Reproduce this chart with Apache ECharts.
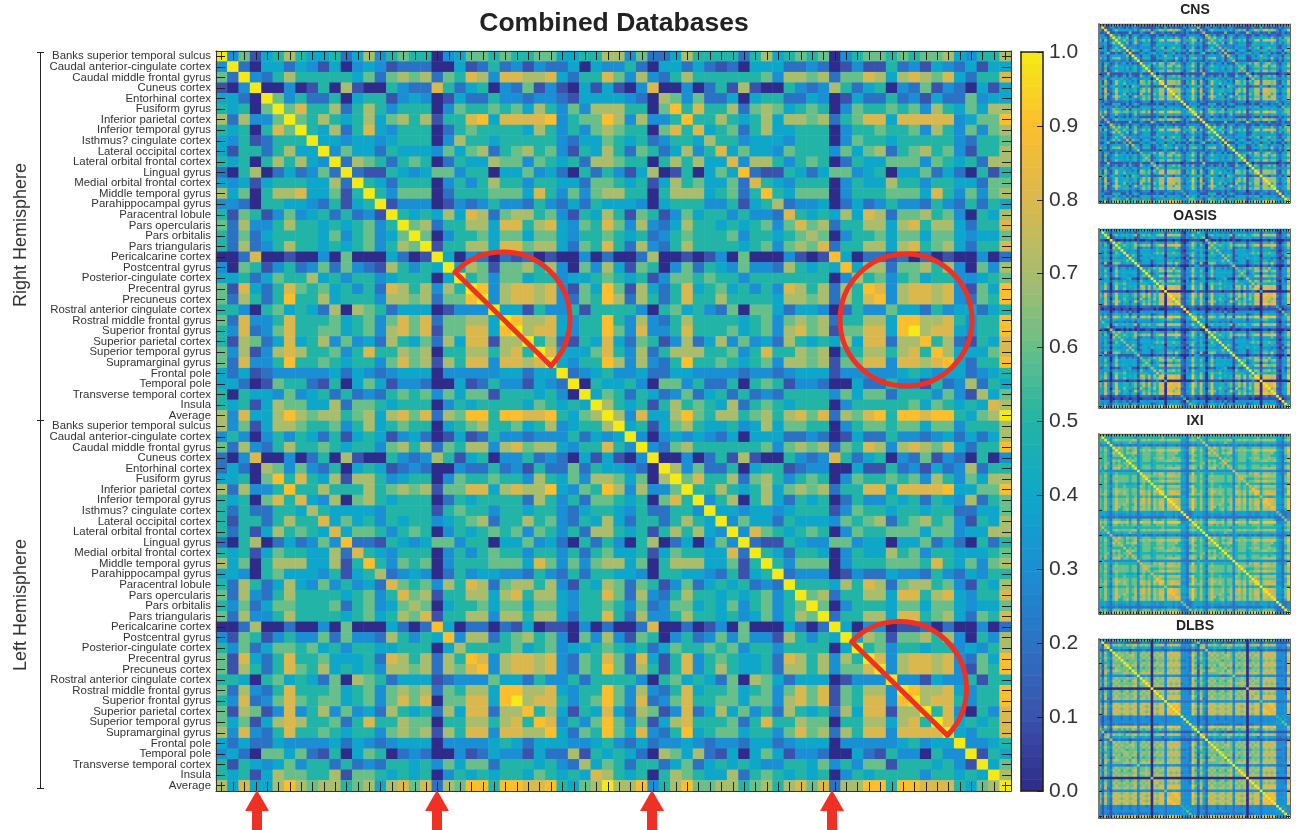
<!DOCTYPE html>
<html><head><meta charset="utf-8">
<style>html,body{margin:0;padding:0;background:#fff}#c{width:1296px;height:830px}</style>
<script src="https://cdn.jsdelivr.net/npm/echarts@6/dist/echarts.min.js"></script>
</head><body><div id="c"></div>
<script>
const chartTitle = "Combined Databases";
const regions = ["Banks superior temporal sulcus","Caudal anterior-cingulate cortex","Caudal middle frontal gyrus","Cuneus cortex","Entorhinal cortex","Fusiform gyrus","Inferior parietal cortex","Inferior temporal gyrus","Isthmus? cingulate cortex","Lateral occipital cortex","Lateral orbital frontal cortex","Lingual gyrus","Medial orbital frontal cortex","Middle temporal gyrus","Parahippocampal gyrus","Paracentral lobule","Pars opercularis","Pars orbitalis","Pars triangularis","Pericalcarine cortex","Postcentral gyrus","Posterior-cingulate cortex","Precentral gyrus","Precuneus cortex","Rostral anterior cingulate cortex","Rostral middle frontal gyrus","Superior frontal gyrus","Superior parietal cortex","Superior temporal gyrus","Supramarginal gyrus","Frontal pole","Temporal pole","Transverse temporal cortex","Insula","Average"];
const parula = ["#2f2b8a","#3a52ac","#2c72c4","#1b8fd4","#0fa7c9","#22b4a6","#68bf89","#a9bd6d","#dbb84e","#fdbe2e","#f5ea15"];

// Digits are tenths of the correlation, A = 1.0. Upper triangles, each row starts on the diagonal.
const rightRight = ["A3614|57544|52473|56550|34665|65566|44557","A204|42431|40343|12220|04125|23132|24043","A32|57555|55462|67672|65873|88778|42558","A0|03015|07100|53228|52450|32613|10414","A|63522|50455|13430|14225|33233|21444","A6855|72575|35550|36556|56475|36377","A657|54574|67571|55894|88889|35669","A54|72584|35550|25655|55475|35367","A4|43443|45550|37554|55555|32446","A|36442|54443|64672|56756|31547","A2765|25650|25447|66365|45277","A211|54346|63550|44634|20525","A54|25550|35357|55355|44266","A5|36660|25556|66485|36367","A|13330|13235|33253|24254","A5454|74872|67756|31547","A672|55774|88578|43658","A60|35564|66466|43556","A1|55774|88677|42658","A|40320|21201|00302","A4761|66757|30637","A563|66455|34456","A93|78878|31649","A3|78878|32659","A|44153|35155","A9778|43559","A788|43559","A57|21548","A8|44468","A|43559","A2345","A054","A46","A7","A"];
const leftLeft = ["A4514|67544|53474|66550|35665|66466|35557","A303|43432|40444|22320|14225|33234|24247","A32|67555|55563|67672|65873|78768|42559","A0|03025|17100|53238|52450|32613|20503","A|73622|50455|12330|04115|23142|37255","A6855|72675|35650|36556|56375|36477","A557|54574|67672|55884|88889|44669","A35|70574|25450|25335|45254|37256","A4|43443|45551|36554|55455|22446","A|36442|54443|65672|56756|31547","A3865|45650|36556|66466|34477","A211|54336|63440|44624|20525","A54|25540|35447|56355|44456","A5|36660|35556|66585|46367","A|23330|13224|33253|24355","A5554|75872|67756|31547","A672|55774|88578|43558","A60|35554|66466|43446","A2|55774|88567|42658","A|40330|11202|00302","A4761|66757|30537","A563|55455|34357","A83|78878|32649","A3|78878|31659","A|33143|35155","A9778|43559","A788|53559","A58|30538","A8|45458","A|43558","A3345","A154","A46","A7","A"];
// Right hemisphere rows against left hemisphere columns, full 35x35 block.
const rightLeft = ["73622|47555|52574|56560|35665|65667|43557","35204|42421|20444|22320|13115|23143|24144","63732|57555|55563|77672|66874|78768|42558","10380|03025|17100|53237|52450|32613|20414","43207|63622|40455|22430|14225|23142|26344","75506|95855|72676|45650|36556|56375|46477","73733|59557|54574|77672|56884|88888|34669","65506|85845|62574|45550|35565|56375|36367","54523|55475|53444|35550|36554|55555|32556","52652|47358|46443|65553|64672|56756|31557","65505|75744|83775|35650|25446|66365|45277","31470|15046|49211|54246|63450|44624|20515","54514|75644|62854|35550|35447|55355|44266","75505|77745|62595|46660|35556|66485|36367","44304|55533|51457|23340|24235|33253|25254","51651|36455|35332|85454|74872|66756|30547","63732|47554|54563|68672|55774|78577|42558","54523|56555|63554|56760|35564|66466|43446","52732|57555|54563|67682|55774|78567|42558","00270|01013|06000|31019|40221|20201|00302","41650|36254|36332|75454|94772|66757|30637","54513|66565|53555|55550|37563|56455|33456","61742|58456|45353|87572|75983|78878|31649","72752|58557|55554|77672|75893|78878|32659","55305|64532|60664|24430|25336|44253|44245","53732|57555|54563|67672|55774|99778|53559","63833|58555|64563|78671|66884|9A788|43559","42651|37247|36342|75454|74882|77957|21548","53725|77755|63585|57670|55775|78597|44468","73732|59556|54563|77671|66883|88789|42559","33422|44333|32332|34441|33333|45434|42345","45306|63522|50565|13320|04225|33152|37254","52542|36245|25232|55553|64662|55536|31746","54515|75654|72565|45550|35555|56465|45487","73844|79657|75675|78682|76895|99899|5467A"];
// Small panels: one hemisphere's upper triangle and the between-hemisphere diagonal.
const cnsWithin = ["A2513|46332|41362|44341|23554|55455|33446","A113|31321|31332|11111|13115|12121|13133","A21|46444|44352|56561|45765|78676|31448","A1|12111|16111|42117|41231|21511|21312","A|52412|41343|12321|13114|22122|11333","A5744|61462|24441|25445|45363|25266","A546|43463|56461|44783|78787|24558","A43|61473|24441|14544|44364|25256","A3|32332|34441|25443|44444|21335","A|25332|43332|53561|45645|21436","A1654|14541|14335|55255|34166","A111|43234|52441|33513|11414","A43|14441|24246|44244|33155","A4|25551|14445|55373|25256","A|12221|12124|22142|13143","A4344|63762|56745|21436","A561|44663|77467|32458","A51|24454|55355|32445","A1|44663|77566|31458","A|30211|11111|01211","A3651|55646|21526","A452|55445|33345","A82|77767|21538","A2|77767|21548","A|33143|24144","A8777|32448","A777|42459","A57|21437","A7|33357","A|32448","A2234","A143","A35","A6","A"];
const cnsBetween = "77678|87767|87867|66767|87785|88888|55667";
const oasisWithin = ["A3451|55444|33534|44451|44553|66545|11447","A431|32332|32313|33332|33441|34343|10324","A50|56455|54571|56564|46771|88778|21348","A0|13332|43411|43344|43441|43444|11324","A|20010|10101|00110|10000|11011|00011","A5753|54562|34441|45441|55464|10247","A556|54574|67672|56881|88889|21458","A44|53561|24341|35441|44464|11246","A4|33431|44443|35441|44433|10234","A|34441|44443|56561|55655|11346","A3651|24444|34440|55454|21157","A441|44435|44541|33423|10414","A41|24441|34441|55345|21147","A3|34441|34551|66585|21247","A|11110|12120|22131|00021","A4354|65761|65744|20437","A562|45772|78567|21348","A51|35440|55355|21336","A3|44771|87667|21348","A|43331|33434|11314","A4761|66756|10427","A463|55455|21336","A91|88878|10449","A0|88878|10449","A|00000|00001","A9889|21349","A889|31359","A68|11348","A8|21449","A|21349","A1123","A012","A24","A5","A"];
const oasisBetween = "66567|78676|77767|66767|78885|88889|55667";
const ixiWithin = ["A5642|66565|65663|56665|56665|66665|44367","A553|55555|55535|55555|55564|55555|44256","A53|67666|66773|67676|66776|77777|44367","A3|45545|56553|55554|55553|55555|33245","A|32323|32323|32322|32322|33323|22223","A6865|76673|56665|56665|66666|43268","A665|65673|67676|67886|88888|54369","A65|76783|56665|56765|66675|43268","A5|55653|56665|56665|66655|43257","A|56563|56665|66775|66766|43257","A6763|56664|56666|77667|54268","A553|55554|55555|55554|33235","A63|56664|56665|66566|44267","A3|56665|56666|77777|43268","A|33332|33333|33333|22223","A6665|76875|77767|43259","A776|66776|88777|44268","A64|55665|66666|44267","A5|66786|88777|44268","A|55553|55545|33235","A6875|77777|33269","A764|66666|44258","A95|78877|33259","A5|78888|33269","A|55445|44255","A9887|44369","A887|44369","A77|33269","A8|44369","A|33259","A3223","A223","A23","A4","A"];
const ixiBetween = "78787|88878|88878|88878|89987|89998|66678";
const dlbsWithin = ["A3531|66565|65763|65660|55653|67676|33336","A121|22322|12111|23220|23221|23222|11112","A73|76765|76785|76760|67783|78787|33338","A2|44545|54653|44540|44423|45444|22325","A|22322|21222|23220|22221|23222|11112","A6766|75763|67670|67673|78787|33328","A676|67863|76760|76873|87878|33339","A66|76763|67670|67673|78787|33328","A6|56663|65660|56663|67676|22327","A|76673|67670|67673|78787|33328","A6772|76670|76773|87878|33328","A562|65660|56663|67676|22327","A73|67670|67673|78787|33328","A4|78780|77874|87878|33339","A|33430|34332|34333|22223","A6760|67673|78787|33328","A760|76773|87878|33328","A70|67663|76767|23327","A0|77773|87878|33338","A|00000|00000|00000","A7773|78787|33328","A673|67676|33327","A83|88888|33339","A3|88888|33338","A|33433|22223","A8998|33339","A898|33339","A89|33338","A8|33338","A|33339","A3433","A343","A33","A3","A"];
const dlbsBetween = "77677|88777|77877|66767|88886|88888|55667";

function digit(c){ return c === "A" ? 1 : (c === undefined ? 0.5 : +c / 10); }
function clean(s){ return s.replace(/\|/g, ""); }
function fromHalf(rows, a, b){ const lo = Math.min(a,b), hi = Math.max(a,b); return digit(clean(rows[lo])[hi-lo]); }
function mainCells(){
  const out = [];
  for (let i=0;i<70;i++) for (let j=0;j<70;j++){
    const ri=i%35, cj=j%35; let v;
    if (i<35 && j<35) v = fromHalf(rightRight, ri, cj);
    else if (i>=35 && j>=35) v = fromHalf(leftLeft, ri, cj);
    else if (i<35) v = digit(clean(rightLeft[ri])[cj]);
    else v = digit(clean(rightLeft[cj])[ri]);
    out.push([j,i,v]);
  }
  return out;
}
function smallCells(within, between){
  const out = [], b = clean(between);
  for (let i=0;i<70;i++) for (let j=0;j<70;j++){
    const ri=i%35, cj=j%35;
    const cross = (i<35) !== (j<35);
    const v = (cross && ri===cj) ? digit(b[ri]) : fromHalf(within, ri, cj);
    out.push([j,i,v]);
  }
  return out;
}
const labels70 = regions.concat(regions);
const FONT = '"Liberation Sans", Arial, sans-serif';
const RED = "#ee3124";
const grids=[], xAxes=[], yAxes=[], series=[];
function hm(xi,yi,data){ series.push({type:"heatmap",xAxisIndex:xi,yAxisIndex:yi,data,progressive:0,animation:false,emphasis:{disabled:true},silent:true,itemStyle:{borderWidth:0}}); }
function addMatrix(rect, cells, main){
  const g = grids.length; grids.push(Object.assign({containLabel:false},rect));
  const idx = labels70.map((_,i)=>String(i));
  const line = main ? {show:true,lineStyle:{color:"#333",width:1}} : {show:true,lineStyle:{color:"#666",width:1}};
  const tickLen = main ? 9 : 2.5;
  const xTick = {show:true,inside:true,alignWithLabel:true,interval:0,length:tickLen,lineStyle:{color:"#222",width:1}};
  const yTick = main ? xTick : {show:true,inside:true,alignWithLabel:true,interval:(i)=>i%10===9,length:3,lineStyle:{color:"#222",width:1}};
  const xi = xAxes.length, yi = yAxes.length;
  xAxes.push({type:"category",gridIndex:g,data:idx,position:"bottom",z:10,axisLine:line,axisTick:xTick,axisLabel:{show:false},splitLine:{show:false}});
  xAxes.push({type:"category",gridIndex:g,data:idx,position:"top",z:10,axisLine:line,axisTick:xTick,axisLabel:{show:false},splitLine:{show:false}});
  yAxes.push({type:"category",gridIndex:g,data:main?labels70:idx,inverse:true,position:"left",z:10,axisLine:main?line:{show:true,lineStyle:{color:"#777",width:2}},axisTick:yTick,
    axisLabel:main?{show:true,interval:0,fontFamily:FONT,fontSize:11.4,color:"#333",margin:5}:{show:false},splitLine:{show:false}});
  yAxes.push({type:"category",gridIndex:g,data:idx,inverse:true,position:"right",z:10,axisLine:line,axisTick:yTick,axisLabel:{show:false},splitLine:{show:false}});
  hm(xi,yi,cells);
}
addMatrix({left:216,top:51,width:795,height:740}, mainCells(), true);
addMatrix({left:1099,top:24,width:191,height:179}, smallCells(cnsWithin,cnsBetween), false);
addMatrix({left:1099,top:229,width:191,height:179}, smallCells(oasisWithin,oasisBetween), false);
addMatrix({left:1099,top:434,width:191,height:180}, smallCells(ixiWithin,ixiBetween), false);
addMatrix({left:1099,top:639,width:191,height:179}, smallCells(dlbsWithin,dlbsBetween), false);

// colour bar
const levels = Array.from({length:64},(_,i)=>(i+0.5)/64);
(function(){
  const g = grids.length; grids.push({left:1021,top:52,width:22,height:739});
  const xi=xAxes.length, yi=yAxes.length;
  const line={show:true,lineStyle:{color:"#222",width:1.5}};
  xAxes.push({type:"category",gridIndex:g,data:["bar"],z:10,axisLine:line,axisTick:{show:false},axisLabel:{show:false}});
  xAxes.push({type:"category",gridIndex:g,data:["bar"],position:"top",z:10,axisLine:line,axisTick:{show:false},axisLabel:{show:false}});
  yAxes.push({type:"category",gridIndex:g,data:levels.map(String),position:"left",z:10,axisLine:line,axisTick:{show:false},axisLabel:{show:false}});
  yAxes.push({type:"value",gridIndex:g,min:0,max:1,interval:0.1,position:"right",z:10,axisLine:line,
    axisTick:{show:true,inside:true,length:6,lineStyle:{color:"#222",width:1}},splitLine:{show:false},
    axisLabel:{show:true,margin:6,fontFamily:FONT,fontSize:21,color:"#333",formatter:v=>v.toFixed(1)}});
  hm(xi,yi,levels.map((v,i)=>[0,i,v]));
})();

const stroke={stroke:RED,lineWidth:5,fill:"none",lineCap:"round"};
function half(cx,cy,r,x1,y1,x2,y2){
  return [
   {type:"arc",z:20,shape:{cx,cy,r,startAngle:Math.atan2(y1-cy,x1-cx),endAngle:Math.atan2(y2-cy,x2-cx),clockwise:true},style:stroke},
   {type:"line",z:20,shape:{x1,y1,x2,y2},style:stroke}
  ];
}
const graphic=[
 {type:"text",style:{x:614,y:10,text:chartTitle,fontFamily:FONT,fontSize:26.5,fontWeight:"bold",fill:"#222",textAlign:"center"}},
 {type:"text",style:{x:1195,y:3,text:"CNS",fontFamily:FONT,fontSize:14,fontWeight:"bold",fill:"#222",textAlign:"center"}},
 {type:"text",style:{x:1195,y:209,text:"OASIS",fontFamily:FONT,fontSize:14,fontWeight:"bold",fill:"#222",textAlign:"center"}},
 {type:"text",style:{x:1195,y:414,text:"IXI",fontFamily:FONT,fontSize:14,fontWeight:"bold",fill:"#222",textAlign:"center"}},
 {type:"text",style:{x:1195,y:619,text:"DLBS",fontFamily:FONT,fontSize:14,fontWeight:"bold",fill:"#222",textAlign:"center"}},
 {type:"text",rotation:Math.PI/2,x:21,y:235,style:{text:"Right Hemisphere",fontFamily:FONT,fontSize:18,fill:"#333",textAlign:"center",textVerticalAlign:"middle"}},
 {type:"text",rotation:Math.PI/2,x:21,y:605,style:{text:"Left Hemisphere",fontFamily:FONT,fontSize:18,fill:"#333",textAlign:"center",textVerticalAlign:"middle"}},
 {type:"line",shape:{x1:40.5,y1:52,x2:40.5,y2:788},style:{stroke:"#222",lineWidth:1}},
 {type:"line",shape:{x1:37,y1:52.5,x2:44,y2:52.5},style:{stroke:"#222",lineWidth:1}},
 {type:"line",shape:{x1:37,y1:420.5,x2:44,y2:420.5},style:{stroke:"#222",lineWidth:1}},
 {type:"line",shape:{x1:37,y1:788.5,x2:44,y2:788.5},style:{stroke:"#222",lineWidth:1}},
 ...half(503,319,67,455,272,551,366),
 ...half(899.5,688.5,67,852,642,947,735),
 {type:"circle",z:20,shape:{cx:906,cy:320,r:66},style:stroke}
];
[257,437,652,832].forEach(x=>graphic.push({type:"polygon",z:20,shape:{points:[[x,790],[x+12,811],[x+5,811],[x+5,830],[x-5,830],[x-5,811],[x-12,811]]},style:{fill:RED}}));

const chart = echarts.init(document.getElementById("c"),null,{renderer:"canvas"});
chart.setOption({animation:false,backgroundColor:"#fff",grid:grids,xAxis:xAxes,yAxis:yAxes,series,graphic,
 visualMap:{type:"continuous",show:false,min:0,max:1,dimension:2,seriesIndex:series.map((_,i)=>i),inRange:{color:parula}}});
</script></body></html>
